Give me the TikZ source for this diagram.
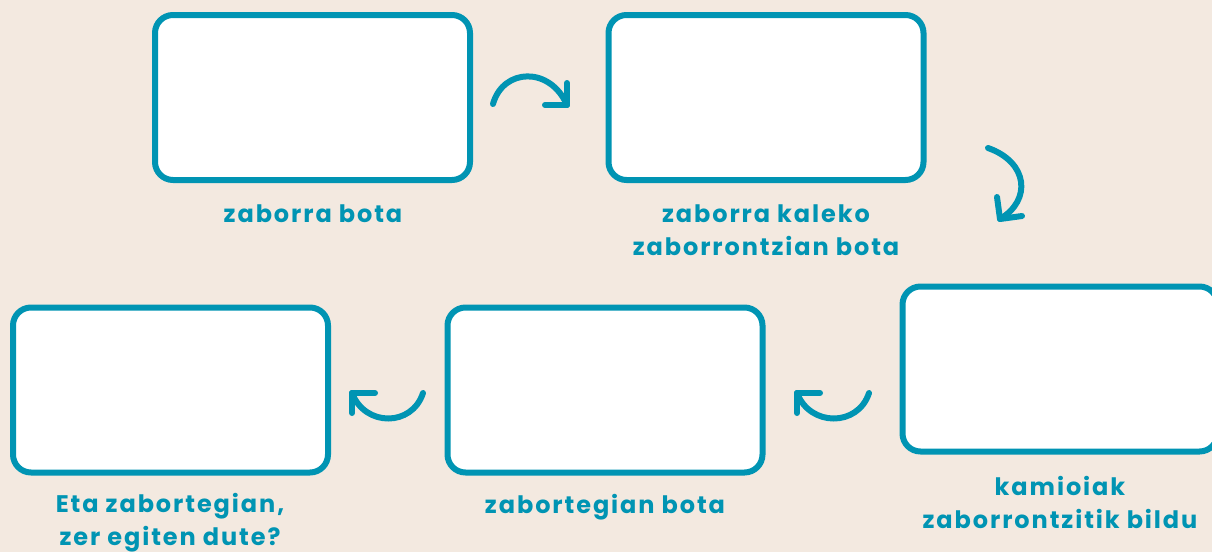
\documentclass[tikz,border=0pt]{standalone}
\usepackage{fontspec}
\setmainfont{Poppins}[BoldFont=* Bold, LetterSpace=8]
\definecolor{teal}{HTML}{0094B3}
\definecolor{bg}{HTML}{F3E9E0}
\begin{document}
\begin{tikzpicture}[x=1pt,y=-1pt,
  card/.style={draw=teal, fill=white, line width=6pt, rounded corners=18pt,
    minimum width=315pt, minimum height=165pt, inner sep=0pt},
  lbl/.style={text=teal, font=\fontsize{24}{33}\selectfont\bfseries, align=center, inner sep=0pt, anchor=base},
  turn/.style={draw=teal, line width=6pt, line cap=round, line join=round}]
\fill[bg] (0,0) rectangle (1212,552);
\useasboundingbox (0,0) rectangle (1212,552);
\begin{scope}
\clip (0,0) rectangle (1212,552);
\node[card] (b1) at (312.5,97.5) {};
\node[card] (b2) at (766,97.5) {};
\node[card] (b3) at (1060,369) {};
\node[card] (b4) at (605,390) {};
\node[card] (b5) at (170.5,390) {};
\end{scope}
\node[lbl] (l1) at (313,222) {zaborra bota};
\node[lbl] (l2) at (766,255) {zaborra kaleko\\zaborrontzian bota};
\node[lbl] (l3) at (1060,528) {kamioiak\\zaborrontzitik bildu};
\node[lbl] (l4) at (605,513) {zabortegian bota};
\node[lbl] (l5) at (170,545) {Eta zabortegian,\\zer egiten dute?};
% arrow 1
\coordinate (a1s) at (493,104);
\coordinate (a1t) at (567,105);
\coordinate (a1u) at (567,83);
\coordinate (a1l) at (545,105);
\draw[turn] (a1s) .. controls (503,68) and (550,66) .. (a1t);
\draw[turn] (a1u) -- (a1t) -- (a1l);
% arrow 2
\coordinate (a2s) at (988,148);
\coordinate (a2t) at (1000,219);
\coordinate (a2u) at (997,197);
\coordinate (a2r) at (1022,216);
\draw[turn] (a2s) .. controls (1028,162) and (1032,200) .. (a2t);
\draw[turn] (a2u) -- (a2t) -- (a2r);
% arrow 3
\coordinate (a3s) at (423,393);
\coordinate (a3t) at (352,393);
\coordinate (a3r) at (375,393);
\coordinate (a3d) at (352,413);
\draw[turn] (a3s) .. controls (412,427) and (365,427) .. (a3t);
\draw[turn] (a3r) -- (a3t) -- (a3d);
% arrow 4
\coordinate (a4s) at (869,393);
\coordinate (a4t) at (797,393);
\coordinate (a4r) at (820,393);
\coordinate (a4d) at (797,413);
\draw[turn] (a4s) .. controls (858,427) and (810,427) .. (a4t);
\draw[turn] (a4r) -- (a4t) -- (a4d);
\end{tikzpicture}
\end{document}
